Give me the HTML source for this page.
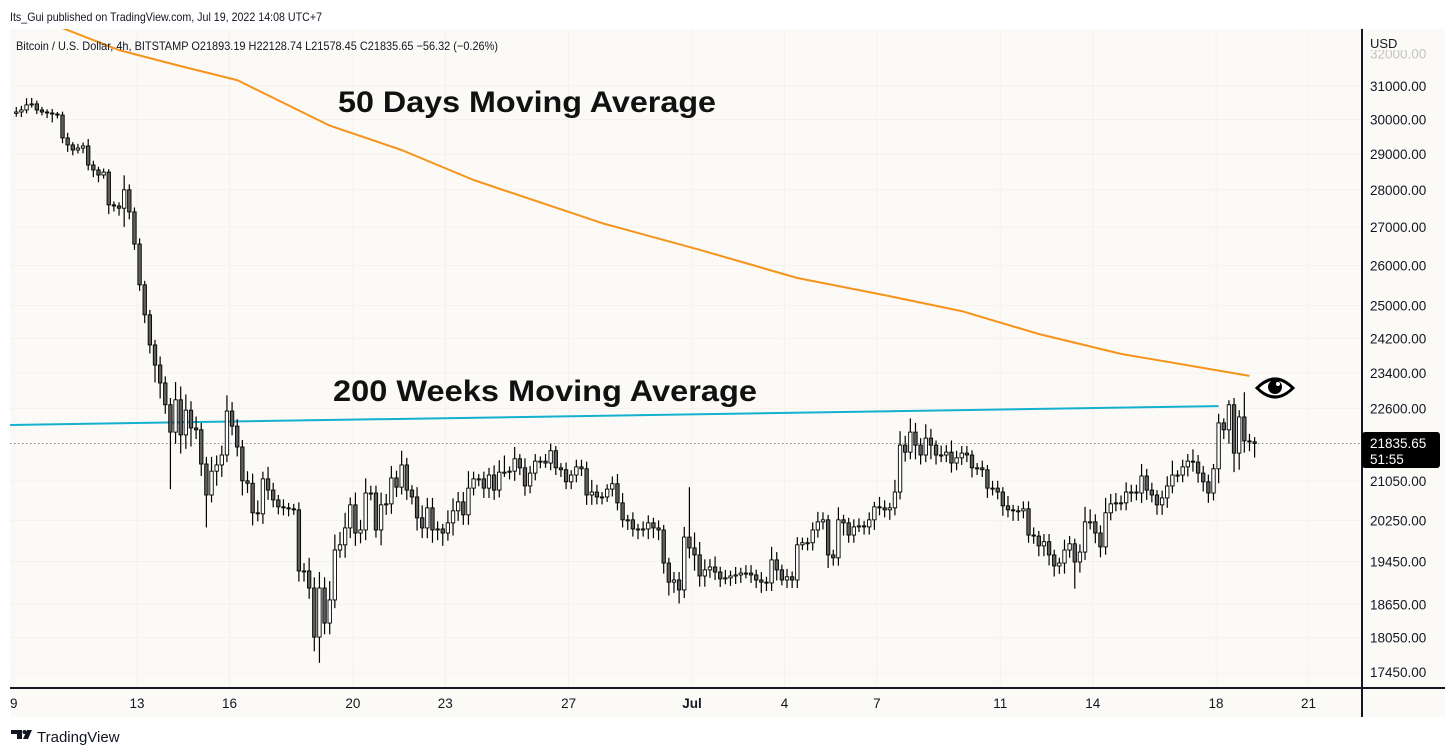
<!DOCTYPE html>
<html><head><meta charset="utf-8"><style>
html,body{margin:0;padding:0;background:#fff;width:1456px;height:755px;overflow:hidden}
svg{display:block;font-family:"Liberation Sans",sans-serif}
</style></head><body>
<svg id="chart" width="1456" height="755" viewBox="0 0 1456 755">
<text x="10" y="21" font-size="12" fill="#131722" textLength="312" lengthAdjust="spacingAndGlyphs">Its_Gui published on TradingView.com, Jul 19, 2022 14:08 UTC+7</text>
<rect x="10" y="29" width="1435" height="688" fill="#fcfaf7"/>
<g id="grid"></g>
<g id="plot"></g>
<line x1="1362" y1="29" x2="1362" y2="717" stroke="#131722" stroke-width="2"/>
<line x1="10" y1="688" x2="1445" y2="688" stroke="#131722" stroke-width="2"/>
<g id="yaxis"></g>
<g id="xaxis"></g>
<text x="16" y="50" font-size="12" fill="#131722" textLength="482" lengthAdjust="spacingAndGlyphs">Bitcoin / U.S. Dollar, 4h, BITSTAMP  O21893.19  H22128.74  L21578.45  C21835.65  −56.32 (−0.26%)</text>
<rect x="1366" y="34" width="40" height="16" fill="#fcfaf7"/>
<text x="1370" y="48" font-size="13" fill="#131722">USD</text>
<text x="338" y="112" font-size="30" font-weight="bold" fill="#111" textLength="378" lengthAdjust="spacingAndGlyphs">50 Days Moving Average</text>
<text x="333" y="401" font-size="30" font-weight="bold" fill="#111" textLength="424" lengthAdjust="spacingAndGlyphs">200 Weeks Moving Average</text>
<g>
<path d="M1257 388 Q1275 370 1293 388 Q1275 406 1257 388 Z" fill="#fff" stroke="#000" stroke-width="3"/>
<circle cx="1275" cy="387" r="7" fill="#000"/>
<circle cx="1278" cy="384" r="2" fill="#fff"/>
</g>
<g id="pricebox">
<rect x="1362" y="432" width="78" height="36" rx="3" fill="#000"/>
<text x="1370" y="448" font-size="13.5" fill="#fff">21835.65</text>
<text x="1370" y="464" font-size="13.5" fill="#fff">51:55</text>
</g>
<g>
<path d="M11 730 H22 V739 H17 V734 H11 Z" fill="#131722"/>
<circle cx="24.5" cy="732" r="2" fill="#131722"/>
<path d="M27 730 H32 L28 739 H23 Z" fill="#131722"/>
<text x="37" y="742" font-size="15" fill="#131722">TradingView</text>
</g>
</svg>
<script>
const closes=[30220,30280,30430,30460,30280,30220,30190,30160,30130,29460,
29260,29115,29170,29230,28690,28550,28410,28490,27590,27560,
27500,28000,27400,26550,25510,24770,24050,23580,23170,22680,
22080,22790,22020,22560,22170,22130,21400,20760,21250,21380,
21590,22540,22210,21760,21050,21000,20400,20380,21090,20860,
20660,20520,20500,20480,20460,19270,19270,18950,18060,18950,
18310,18730,19670,19770,20100,20560,20000,20060,20800,20800,
20060,20560,20580,21110,20920,21380,20860,20720,20300,20100,
20500,20060,20080,20000,20200,20440,20620,20360,20900,21090,
21090,20900,21170,20860,21230,21230,21250,21510,21320,20945,
21210,21460,21460,21420,21680,21320,21280,21030,21170,21340,
21300,20760,20820,20720,20720,20880,20990,20600,20260,20260,
20080,20080,20080,20200,20100,20060,19420,19060,19100,18915,
19920,19710,19575,19175,19290,19345,19250,19120,19140,19175,
19195,19230,19230,19195,19100,19060,19045,19480,19290,19100,
19160,19100,19770,19810,19810,20060,20220,20260,19575,19520,
20260,20200,19960,20120,20140,20120,20260,20520,20500,20460,
20500,20820,21800,21650,22080,21800,21590,21950,21800,21590,
21590,21650,21420,21530,21630,21590,21320,21320,21280,20900,
20900,20820,20540,20460,20440,20440,20480,19960,19940,19750,
19830,19575,19365,19420,19670,19790,19440,19630,20220,20220,
20000,19730,20400,20580,20600,20600,20820,20820,20800,21150,
20860,20760,20560,20700,20945,21170,21170,21340,21460,21440,
21210,21030,20800,21300,22280,22130,22680,21630,22410,21890,
21870,21836];
const upWick=[150,120,200,180,100,90,80,120,60,100,
150,80,120,100,200,120,90,100,80,90,
100,400,150,120,150,100,120,120,200,150,
150,400,300,350,200,250,150,150,300,200,
200,350,200,150,150,200,200,250,150,250,
150,100,150,100,100,150,150,250,200,300,
200,350,300,250,300,150,250,200,300,150,
150,250,200,250,150,300,150,100,200,250,
200,200,150,100,250,250,200,200,350,150,
100,150,150,200,250,350,100,250,100,200,
150,150,100,150,150,100,100,150,100,150,
150,150,250,150,100,100,150,200,200,100,
150,100,150,150,100,150,100,100,150,150,
200,1000,300,250,200,150,200,100,150,100,
150,100,150,150,100,150,100,250,150,100,
150,100,150,100,100,150,200,150,100,100,
250,100,100,150,150,100,150,100,200,150,
100,250,300,200,300,200,150,300,200,100,
200,150,250,150,150,150,100,100,150,100,
150,150,100,200,100,100,150,150,150,100,
150,150,100,100,200,150,100,150,300,250,
150,150,300,200,200,150,200,150,150,250,
150,150,100,150,200,300,100,150,150,250,
150,150,150,100,200,100,100,150,150,550,
150,100];
const downWick=[100,150,100,80,120,100,150,250,100,150,
200,150,100,150,150,200,200,100,250,150,
200,500,200,150,150,200,200,400,350,200,
1200,250,400,300,400,200,250,650,150,300,
250,150,200,200,300,200,250,150,200,200,
150,150,150,150,100,200,200,200,250,450,
200,200,150,150,250,200,250,200,200,150,
150,300,200,200,200,150,200,150,250,200,
200,250,200,250,150,250,200,200,200,150,
150,200,200,200,150,100,150,200,150,200,
150,150,150,100,150,150,150,150,150,150,
150,200,200,150,150,100,150,150,150,200,
150,200,150,200,200,200,200,250,200,250,
150,200,300,200,200,150,150,150,100,150,
150,150,100,150,150,200,150,150,200,100,
150,150,150,100,150,150,150,150,250,150,
150,250,150,150,100,150,150,200,150,150,
200,150,150,200,150,300,200,150,300,200,
150,150,200,150,150,150,200,150,150,200,
150,150,200,150,200,200,150,150,150,200,
200,200,200,150,200,150,500,200,150,150,
200,200,150,150,150,150,150,200,150,200,
200,150,200,200,200,150,150,150,200,200,
200,200,200,150,300,200,300,400,350,250,
200,300];
const firstOpen=30180;
const ma50Idx=[9,20,32,43,61,75,89,114,133,152,168,184,199,215,240];
const ma50Val=[32810,32110,31610,31180,29820,29115,28270,27100,26400,25680,25280,24860,24310,23840,23330];
const ma200Idx=[-1.2,234];
const ma200Val=[22235,22650];
const priceTicks=[31000,30000,29000,28000,27000,26000,25000,24200,23400,22600,21050,20250,19450,18650,18050,17450];
const dayLabels=["9","13","16","20","23","27","Jul","4","7","11","14","18","21"];
const dayOffsets=[0,4,7,11,14,18,22,25,28,32,35,39,42];
const lastPrice=21835.65;

const NS="http://www.w3.org/2000/svg";
function yOf(p){return 86+1020*Math.log(31000/p);}
function xOfDay(d){return 13.7+30.83*d;}
function xOf(i){return xOfDay(i/6)+2.57;}
function mk(tag,attrs,parent){const e=document.createElementNS(NS,tag);for(const k in attrs)e.setAttribute(k,attrs[k]);parent.appendChild(e);return e;}
const grid=document.getElementById('grid'),plot=document.getElementById('plot'),yax=document.getElementById('yaxis'),xax=document.getElementById('xaxis');
priceTicks.forEach(p=>{const l=mk('line',{x1:10,x2:1362,y1:yOf(p),y2:yOf(p),stroke:'#f5f2ee','stroke-width':1},grid);

});
dayOffsets.forEach(d=>{const l=mk('line',{x1:xOfDay(d),x2:xOfDay(d),y1:29,y2:688,stroke:'#f5f2ee','stroke-width':1},grid);

});
const defs=mk('defs',{},plot);const cp=mk('clipPath',{id:'pc'},defs);mk('rect',{x:10,y:29,width:1352,height:659},cp);
const g=mk('g',{'clip-path':'url(#pc)'},plot);
const cl=mk('line',{x1:10,x2:1362,y1:yOf(lastPrice),y2:yOf(lastPrice),stroke:'#8a8a8a','stroke-width':1,'stroke-dasharray':'1.5 2.5'},g);


function poly(idx,val,color,name){const pts=idx.map((i,k)=>xOf(i).toFixed(1)+','+yOf(val[k]).toFixed(1)).join(' ');
const pl=mk('polyline',{points:pts,fill:'none',stroke:color,'stroke-width':2,'stroke-linejoin':'round'},g);

}
poly(ma50Idx,ma50Val,'#f7931a','ma50-line');
poly(ma200Idx,ma200Val,'#13b0cf','ma200w-line');
let prev=firstOpen;
closes.forEach((c,i)=>{const o=prev;prev=c;const x=xOf(i);
const hi=Math.max(o,c)+upWick[i],lo=Math.min(o,c)-downWick[i];
const cg=mk('g',{},g);


mk('line',{x1:x,x2:x,y1:yOf(hi),y2:yOf(lo),stroke:'#000','stroke-width':1.2},cg);
const yt=yOf(Math.max(o,c)),yb=yOf(Math.min(o,c));
mk('rect',{x:x-1.7,y:yt,width:3.4,height:Math.max(1,yb-yt),fill:c>=o?'#fff':'#5e5e5e',stroke:'#000','stroke-width':0.9},cg);});
const t0=mk('text',{x:1370,y:yOf(32000)+5,'font-size':13.5,fill:'#c4c4c4'},yax);t0.textContent='32000.00';


priceTicks.forEach(p=>{const t=mk('text',{x:1370,y:yOf(p)+5,'font-size':13.5,fill:'#131722'},yax);t.textContent=p.toFixed(2);

});
dayLabels.forEach((s,k)=>{const t=mk('text',{x:xOfDay(dayOffsets[k]),y:708,'font-size':13.5,fill:'#131722','text-anchor':'middle','font-weight':s==='Jul'?'bold':'normal'},xax);t.textContent=s;

});
mk('rect',{x:0,y:690,width:10,height:27,fill:'#fff'},xax);
</script>
</body></html>
